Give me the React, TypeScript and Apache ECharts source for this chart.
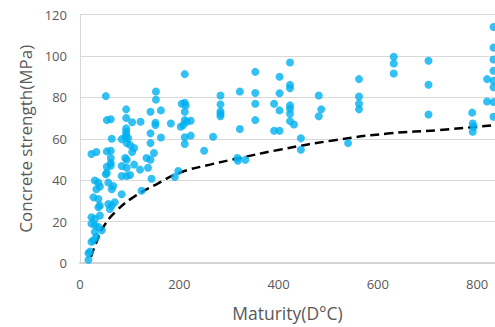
import React, { useEffect, useRef } from "react";
import * as echarts from "echarts";

const xTicks = [0, 200, 400, 600, 800];
const yTicks = [0, 20, 40, 60, 80, 100, 120];

const measured: [number, number][] = [
  [17, 1.5], [17, 4.7], [20, 5.5], [23, 10.2], [27, 11], [33, 12.6],
  [23, 19], [30, 18.2], [37, 17.4], [44, 15.8], [30, 15],
  [23, 22.1], [30, 21.3], [40, 22.9],
  [40, 27.7], [37, 26.9], [57, 28.5], [64, 27.7], [70, 29.3], [60, 26.1],
  [27, 31.7], [37, 30.9],
  [30, 39.8], [37, 38.8], [40, 36.9], [33, 35.6], [57, 38.8], [67, 37.2], [64, 35.6],
  [84, 33.2], [124, 34.9], [144, 40.7],
  [54, 43.6], [52, 42.8], [84, 42], [94, 42], [101, 42.5], [62, 47], [54, 46.5],
  [84, 46.8], [94, 46], [94, 49.9], [91, 50.7], [109, 47.5], [121, 45.1],
  [134, 50.7], [137, 46], [62, 50.7], [62, 48.3],
  [23, 52.6], [33, 53.6], [54, 53.9], [62, 54.2],
  [52, 80.6], [54, 69], [62, 69.4], [93, 74.2], [93, 70], [105, 68], [122, 68.2],
  [93, 65], [93, 63.4], [93, 62.1], [92, 60.6], [64, 60], [84, 59.8], [97, 60.2],
  [94, 57.9], [101, 57], [109, 55.5], [105, 53.6],
  [142, 73], [153, 82.8], [153, 78.9], [163, 73.7], [142, 62.6], [152, 67.7],
  [152, 66.6], [163, 60.6], [142, 57.9], [149, 53.1], [142, 49.9],
  [211, 91.2], [205, 76.9], [211, 77.4], [213, 76.1], [211, 73], [183, 67.4],
  [211, 69], [215, 68.2], [223, 68.7], [208, 66.6], [203, 65.8], [211, 60.7],
  [223, 61.5], [211, 57.5], [250, 54.2], [268, 61],
  [283, 80.9], [283, 76.6], [283, 73.2], [283, 72.1], [283, 70.9],
  [322, 82.8], [322, 64.7], [353, 92.3], [353, 82.1], [353, 76.9], [353, 69],
  [317, 50.7], [318, 49.4], [333, 49.8], [198, 44.4], [191, 41.5],
  [423, 96.8], [402, 89.9], [423, 86], [423, 84.4], [402, 82], [391, 76.9],
  [402, 73.7], [423, 76.1], [423, 74.5], [423, 72.1], [423, 68.5], [431, 66.9],
  [391, 63.9], [402, 63.9], [445, 60.2], [445, 54.7],
  [481, 80.9], [486, 74.2], [481, 70.9],
  [562, 88.8], [562, 80.4], [562, 76.9], [562, 74.2], [540, 57.9],
  [632, 99.6], [632, 96.3], [632, 91.5],
  [702, 97.7], [702, 86.1], [702, 71.7],
  [790, 72.6], [791, 67.4], [793, 65.8], [791, 63.4],
  [820, 88.8], [820, 78],
  [833, 114], [833, 104], [833, 98.3], [833, 92.8], [833, 88], [833, 84.9],
  [833, 77.7], [833, 70.6],
];

const fitCurve: [number, number][] = [
  [22, 3], [33, 10], [47, 17.4], [74, 25.3], [107, 31.7], [154, 38],
  [201, 43.6], [262, 47.5], [322, 50.7], [402, 54.7], [516, 59.4],
  [624, 62.6], [724, 64.2], [836, 66.6],
];

const FONT = "'Open Sans', 'Noto Sans', sans-serif";

export default function App() {
  const ref = useRef<HTMLDivElement>(null);
  useEffect(() => {
    if (!ref.current) return;
    const chart = echarts.init(ref.current, null, { renderer: "svg" });
    chart.setOption({
      animation: false,
      backgroundColor: "#ffffff",
      grid: { left: 80, right: 0, top: 14.5, bottom: 60.5, containLabel: false },
      xAxis: {
        type: "value",
        min: xTicks[0],
        max: 836,
        interval: xTicks[1] - xTicks[0],
        name: "Maturity(D°C)",
        nameLocation: "middle",
        nameGap: 41,
        nameTextStyle: { color: "#595959", fontSize: 17.5, fontFamily: FONT },
        axisLine: { show: true, lineStyle: { color: "#d4d4d4", width: 2 } },
        axisTick: { show: false },
        splitLine: { show: false },
        axisLabel: {
          color: "#595959",
          fontSize: 13,
          fontFamily: FONT,
          margin: 14,
          showMaxLabel: false,
        },
      },
      yAxis: {
        type: "value",
        min: yTicks[0],
        max: yTicks[yTicks.length - 1],
        interval: yTicks[1] - yTicks[0],
        name: "Concrete strength(MPa)",
        nameLocation: "middle",
        nameGap: 44,
        nameTextStyle: { color: "#595959", fontSize: 17, fontFamily: FONT },
        axisLine: { show: true, lineStyle: { color: "#d9d9d9", width: 1 } },
        axisTick: { show: false },
        splitLine: { show: true, lineStyle: { color: "#d9d9d9", width: 1 } },
        axisLabel: { color: "#595959", fontSize: 13, fontFamily: FONT, margin: 13 },
      },
      series: [
        {
          type: "line",
          data: fitCurve,
          smooth: true,
          showSymbol: false,
          symbol: "none",
          lineStyle: { color: "#000000", width: 2.5, type: [9, 5] },
          z: 1,
        },
        {
          type: "scatter",
          data: measured,
          symbol: "circle",
          symbolSize: 8,
          itemStyle: { color: "#00b0f0" },
          clip: false,
          z: 2,
        },
      ],
    });
    return () => chart.dispose();
  }, []);
  return (
    <div
      ref={ref}
      style={{ position: "fixed", left: 0, top: 0, width: 495, height: 327 }}
    />
  );
}
